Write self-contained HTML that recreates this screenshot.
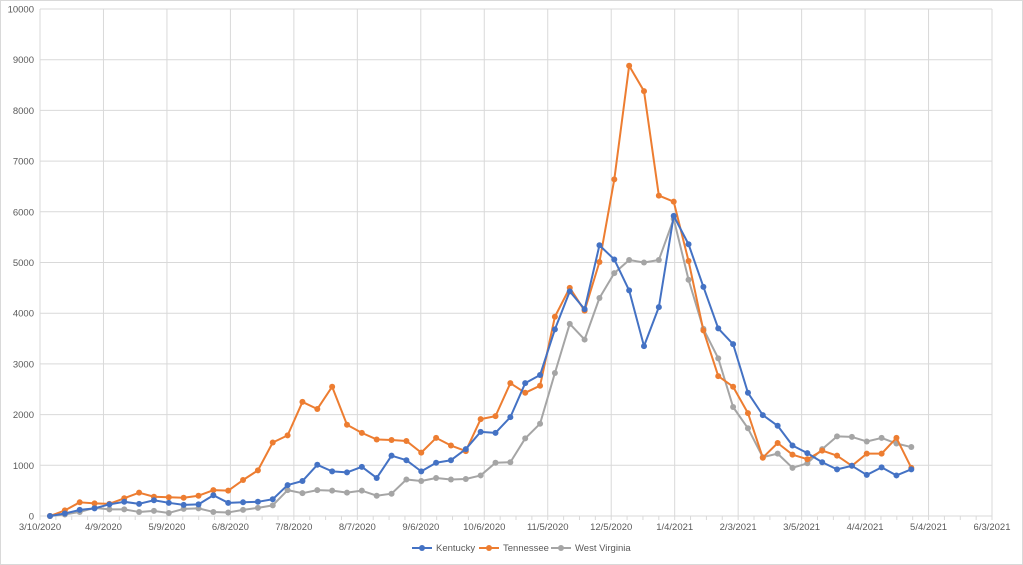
<!DOCTYPE html>
<html><head><meta charset="utf-8"><style>
html,body{margin:0;padding:0;background:#fff}
svg{display:block;font-family:"Liberation Sans",sans-serif}
</style></head><body>
<svg id="c" width="1023" height="565" viewBox="0 0 1023 565" xmlns="http://www.w3.org/2000/svg">
<rect x="0.5" y="0.5" width="1022" height="564" fill="#fff" stroke="#d9d9d9"/>
<g id="grid"></g><g id="ser"></g>
<g font-size="9.5" fill="#595959">
<line x1="412" y1="548" x2="432" y2="548" stroke="#4472C4" stroke-width="2"/><circle cx="422" cy="548" r="3" fill="#4472C4"/><text x="436" y="551">Kentucky</text>
<line x1="479" y1="548" x2="499" y2="548" stroke="#ED7D31" stroke-width="2"/><circle cx="489" cy="548" r="3" fill="#ED7D31"/><text x="503" y="551">Tennessee</text>
<line x1="551" y1="548" x2="571" y2="548" stroke="#A5A5A5" stroke-width="2"/><circle cx="561" cy="548" r="3" fill="#A5A5A5"/><text x="575" y="551">West Virginia</text>
</g>
</svg>
<script>
const NS="http://www.w3.org/2000/svg";
function el(p,t,a,txt){const e=document.createElementNS(NS,t);for(const k in a)e.setAttribute(k,a[k]);if(txt!==undefined)e.textContent=txt;p.appendChild(e);return e;}
const g=document.getElementById('grid');
const y0=516,ppk=50.7,x0=40,pd=2.1156;
const Y=v=>y0-v/1000*ppk;
for(let k=0;k<=10;k++){const y=Y(k*1000);
el(g,'line',{x1:x0,x2:992,y1:y,y2:y,stroke:'#d9d9d9','stroke-width':1});
el(g,'text',{x:x0-6,y:y+3.5,'text-anchor':'end','font-size':'9.5',fill:'#595959'},String(k*1000));}
const labs=["3/10/2020","4/9/2020","5/9/2020","6/8/2020","7/8/2020","8/7/2020","9/6/2020","10/6/2020","11/5/2020","12/5/2020","1/4/2021","2/3/2021","3/5/2021","4/4/2021","5/4/2021","6/3/2021"];
labs.forEach((l,i)=>{const x=x0+i*30*pd;
el(g,'line',{x1:x,x2:x,y1:Y(10000),y2:y0,stroke:'#d9d9d9','stroke-width':1});
el(g,'text',{x:x,y:y0+14,'text-anchor':'middle','font-size':'9.5',fill:'#595959'},l);});
for(let d=0;d<=450;d+=7.5){const x=x0+d*pd;el(g,'line',{x1:x,x2:x,y1:y0,y2:y0+4,stroke:'#d9d9d9'});}
const KY=[0,50,120,150,230,280,240,310,260,220,230,410,260,270,280,330,610,690,1010,880,860,970,750,1190,1100,880,1050,1100,1320,1660,1640,1950,2620,2780,3680,4430,4080,5340,5060,4450,3350,4120,5920,5360,4520,3700,3390,2430,1990,1780,1390,1240,1060,920,990,810,960,800,920];
const TN=[0,110,270,250,240,350,460,380,370,360,400,510,500,710,900,1450,1590,2250,2110,2550,1800,1640,1510,1500,1480,1250,1540,1390,1280,1910,1970,2620,2430,2570,3930,4500,4050,5010,6640,8880,8380,6320,6200,5030,3660,2760,2550,2030,1150,1440,1210,1120,1290,1190,990,1230,1230,1540,950];
const WV=[0,30,80,160,130,130,80,100,60,140,150,80,70,120,160,210,510,450,510,500,460,500,400,440,720,690,750,720,730,800,1050,1060,1530,1820,2820,3790,3480,4300,4790,5050,5000,5050,5860,4660,3690,3110,2150,1730,1160,1230,950,1040,1320,1570,1560,1470,1540,1430,1360];
const s=document.getElementById('ser');
[[WV,'#A5A5A5'],[TN,'#ED7D31'],[KY,'#4472C4']].forEach(([d,c])=>{
const pts=d.map((v,i)=>[50+14.85*i,Y(v)]);
el(s,'polyline',{points:pts.map(p=>p.join(',')).join(' '),fill:'none',stroke:c,'stroke-width':2,'stroke-linejoin':'round'});
pts.forEach(p=>el(s,'circle',{cx:p[0],cy:p[1],r:3,fill:c}));});
</script>
</body></html>
